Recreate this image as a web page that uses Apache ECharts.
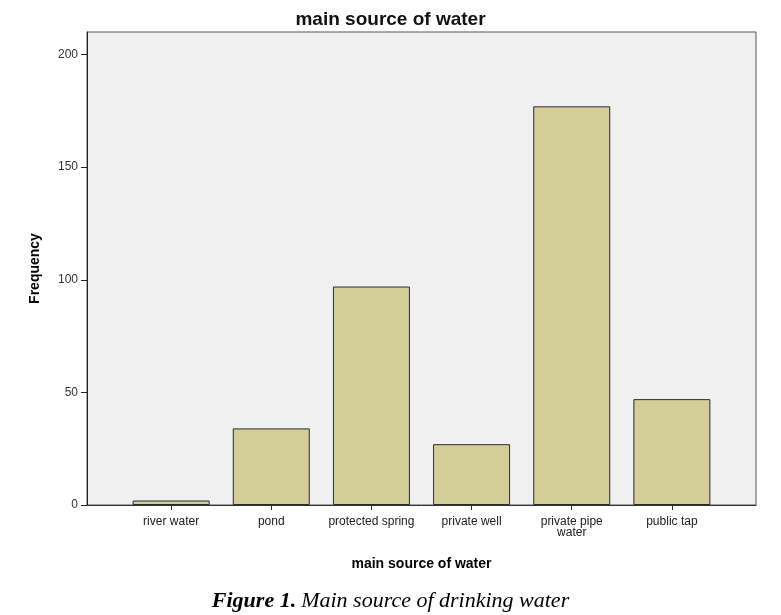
<!DOCTYPE html>
<html><head><meta charset="utf-8">
<script src="https://cdn.jsdelivr.net/npm/echarts@6/dist/echarts.min.js"></script>
<style>html,body{margin:0;padding:0;background:#fff}#c{width:781px;height:615px}</style>
</head><body><div id="c"></div>
<script>
const categories = ['river water', 'pond', 'protected spring', 'private well', 'private pipe\nwater', 'public tap'];
const frequencies = [2, 34, 97, 27, 177, 47];
const yTicks = [0, 50, 100, 150, 200];

const chart = echarts.init(document.getElementById('c'), null, {renderer: 'canvas'});
const catIdx = categories.map((_, i) => i);
chart.setOption({
  animation: false,
  backgroundColor: '#ffffff',
  title: [{
    text: 'main source of water',
    left: 'center', top: 5,
    textStyle: {fontFamily: 'Liberation Sans', fontSize: 19, fontWeight: 'bold', color: '#111'}
  }, {
    text: '{b|Figure 1.} {i|Main source of drinking water}',
    left: 'center', top: 585,
    textStyle: {
      fontWeight: 'normal',
      rich: {
        b: {fontFamily: 'Liberation Serif', fontStyle: 'italic', fontWeight: 'bold', fontSize: 22, color: '#000'},
        i: {fontFamily: 'Liberation Serif', fontStyle: 'italic', fontWeight: 'normal', fontSize: 22, color: '#000'}
      }
    }
  }],
  grid: {
    left: 87, right: 25, top: 32, bottom: 110,
    show: true, backgroundColor: '#f0f0f0', borderColor: '#555', borderWidth: 1
  },
  xAxis: {
    type: 'value', min: -0.84, max: 5.84,
    name: 'main source of water', nameLocation: 'middle', nameGap: 52,
    nameTextStyle: {fontFamily: 'Liberation Sans', fontSize: 14, fontWeight: 'bold', color: '#000'},
    axisLine: {show: true, onZero: false, lineStyle: {color: '#333', width: 1}},
    axisTick: {show: true, customValues: catIdx, length: 5, lineStyle: {color: '#333'}},
    axisLabel: {customValues: catIdx, formatter: v => categories[Math.round(v)] || '', margin: 11,
      fontFamily: 'Liberation Sans', fontSize: 12, color: '#222', lineHeight: 11},
    splitLine: {show: false}
  },
  yAxis: {
    type: 'value', min: 0, max: 210,
    name: 'Frequency', nameLocation: 'middle', nameGap: 45,
    nameTextStyle: {fontFamily: 'Liberation Sans', fontSize: 14, fontWeight: 'bold', color: '#000'},
    axisLine: {show: true, onZero: false, lineStyle: {color: '#222', width: 1}},
    axisTick: {show: true, customValues: yTicks, length: 6, lineStyle: {color: '#222'}},
    axisLabel: {customValues: yTicks, margin: 9, fontFamily: 'Liberation Sans', fontSize: 12, color: '#333'},
    splitLine: {show: false}
  },
  series: [{
    type: 'bar',
    data: frequencies.map((v, i) => [i, v]),
    barWidth: 77,
    itemStyle: {color: '#d3ce97', borderColor: '#2b2b2b', borderWidth: 1}
  }]
});
</script></body></html>
